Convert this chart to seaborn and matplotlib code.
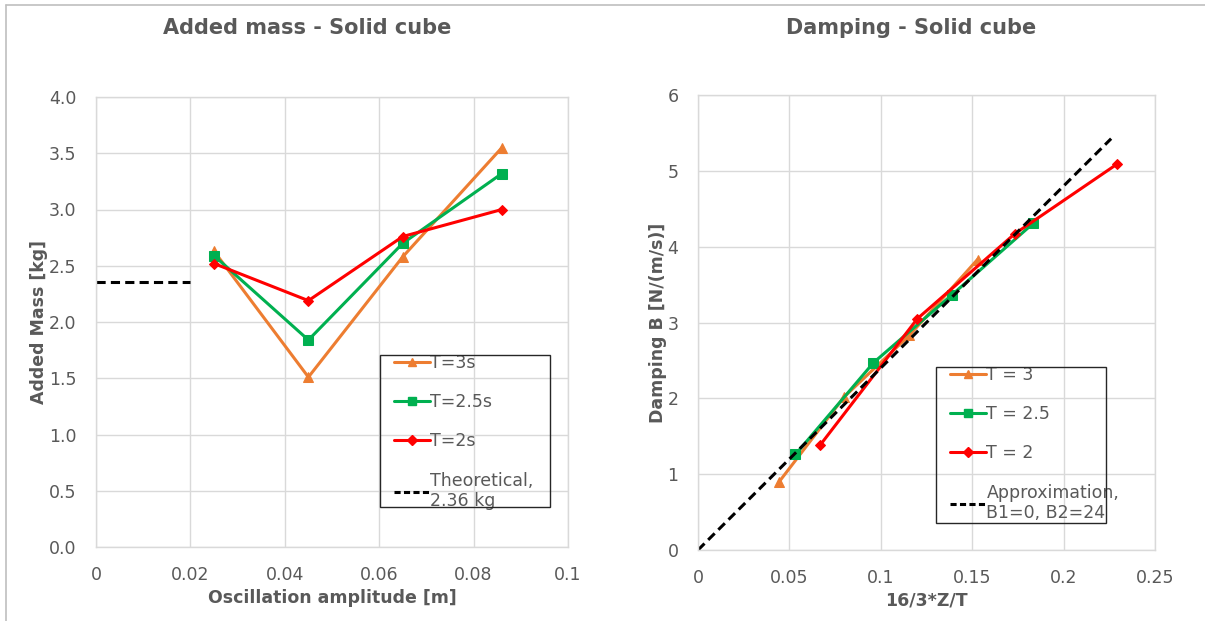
import matplotlib
matplotlib.use("Agg")
import matplotlib.pyplot as plt
from matplotlib.lines import Line2D
from matplotlib.patches import Rectangle
import seaborn as sns
import pandas as pd

# Added mass vs oscillation amplitude
amplitude = [0.025, 0.045, 0.065, 0.086]
mass_T3 = [2.63, 1.51, 2.58, 3.55]
mass_T25 = [2.59, 1.84, 2.70, 3.32]
mass_T2 = [2.52, 2.19, 2.76, 3.00]
theory_x = [0.0, 0.02]
theory_mass = [2.36, 2.36]

# Damping vs 16/3*Z/T
zt_T3 = [0.0444, 0.0800, 0.1156, 0.1529]
damp_T3 = [0.90, 2.02, 2.83, 3.83]
zt_T25 = [0.0533, 0.0960, 0.1387, 0.1835]
damp_T25 = [1.26, 2.47, 3.36, 4.31]
zt_T2 = [0.0667, 0.1200, 0.1733, 0.2293]
damp_T2 = [1.38, 3.05, 4.17, 5.09]
approx_x = [0.0, 0.226]
approx_B = [0.0, 5.424]

mass_labels = ["T=3s", "T=2.5s", "T=2s", "Theoretical,\n2.36 kg"]
damp_labels = ["T = 3", "T = 2.5", "T = 2", "Approximation,\nB1=0, B2=24"]

ORANGE = "#ED7D31"
GREEN = "#00B050"
RED = "#FF0000"
TXT = "#595959"
GRID = "#D9D9D9"

W, H = 1205, 621

sns.set_theme(style="white")
plt.rcParams["font.family"] = ["DejaVu Sans"]

fig = plt.figure(figsize=(W / 100, H / 100), dpi=100)


def fx(px):
    return px / W


def fy(py):
    return 1 - py / H


ax1 = fig.add_axes([fx(96), fy(547), 472 / W, 450 / H])
ax2 = fig.add_axes([fx(698), fy(550), 457 / W, 455 / H])

styles = [(ORANGE, "^", 7.5), (GREEN, "s", 6.5), (RED, "D", 5.5)]
DASH = (0, (3.0, 1.7))
LW = 2.2


def draw_series(ax, xs, ys, color, marker, ms):
    df = pd.DataFrame({"x": xs, "y": ys})
    sns.lineplot(data=df, x="x", y="y", ax=ax, sort=False, color=color,
                 linewidth=LW, marker=marker, markersize=ms,
                 markeredgecolor=color, markerfacecolor=color)


for xs, ys, (c, m, s) in zip([amplitude] * 3, [mass_T3, mass_T25, mass_T2], styles):
    draw_series(ax1, xs, ys, c, m, s)
sns.lineplot(x=theory_x, y=theory_mass, ax=ax1, color="black", linewidth=LW,
             linestyle=DASH)

for xs, ys, (c, m, s) in zip([zt_T3, zt_T25, zt_T2], [damp_T3, damp_T25, damp_T2], styles):
    draw_series(ax2, xs, ys, c, m, s)
sns.lineplot(x=approx_x, y=approx_B, ax=ax2, color="black", linewidth=LW,
             linestyle=DASH)


def style_axes(ax, xlim, ylim, xticks, yticks, xfmt, yfmt, xlabel, ylabel, ypad):
    ax.set_xlim(*xlim)
    ax.set_ylim(*ylim)
    ax.set_xticks(xticks)
    ax.set_yticks(yticks)
    ax.set_xticklabels([xfmt(v) for v in xticks])
    ax.set_yticklabels([yfmt(v) for v in yticks])
    ax.grid(True, color=GRID, linewidth=1.0)
    ax.set_axisbelow(True)
    for sp in ax.spines.values():
        sp.set_color(GRID)
        sp.set_linewidth(1.0)
    ax.tick_params(axis="x", colors=TXT, labelsize=12.5, length=0, pad=14)
    ax.tick_params(axis="y", colors=TXT, labelsize=12.5, length=0, pad=14)
    ax.set_xlabel(xlabel, fontsize=12.5, fontweight="bold", color=TXT, labelpad=3)
    ax.set_ylabel(ylabel, fontsize=12.5, fontweight="bold", color=TXT, labelpad=ypad)


def fmt_x(v):
    return "0" if v == 0 else f"{v:g}"


style_axes(ax1, (0, 0.1), (0, 4.0), [0, 0.02, 0.04, 0.06, 0.08, 0.1],
           [0, 0.5, 1.0, 1.5, 2.0, 2.5, 3.0, 3.5, 4.0], fmt_x, lambda v: f"{v:.1f}",
           "Oscillation amplitude [m]", "Added Mass [kg]", 1)
style_axes(ax2, (0, 0.25), (0, 6), [0, 0.05, 0.1, 0.15, 0.2, 0.25],
           [0, 1, 2, 3, 4, 5, 6], fmt_x, lambda v: f"{v:g}",
           "16/3*Z/T", "Damping B [N/(m/s)]", 0)

fig.text(fx(307), fy(28), "Added mass - Solid cube", ha="center", va="center",
         fontsize=15, fontweight="bold", color=TXT)
fig.text(fx(911), fy(28), "Damping - Solid cube", ha="center", va="center",
         fontsize=15, fontweight="bold", color=TXT)


def make_legend(ax, labels, box):
    x0, y0, x1, y1 = box
    handles = [Line2D([], [], color=c, marker=m, markersize=s * 0.85, linewidth=LW)
               for c, m, s in styles]
    handles.append(Line2D([], [], color="black", linewidth=LW, linestyle=(0, (2.0, 1.1))))
    leg = ax.legend(handles, labels, loc="upper left",
                    bbox_to_anchor=(fx(x0 + 14), fy(y0 - 1)),
                    bbox_transform=fig.transFigure, frameon=False,
                    fontsize=12.5, handlelength=2.05, handletextpad=0.05,
                    labelspacing=1.22, borderpad=0.0, borderaxespad=0,
                    labelcolor=TXT)
    fig.add_artist(Rectangle((fx(x0), fy(y1)), (x1 - x0) / W, (y1 - y0) / H,
                             transform=fig.transFigure, fill=False,
                             edgecolor="#262626", linewidth=1.0, zorder=5))
    return leg


make_legend(ax1, mass_labels, (380, 355, 550, 507))
make_legend(ax2, damp_labels, (936, 367, 1106, 523))

# panel border lines
fig.add_artist(Line2D([fx(6), 1.0], [fy(4.5), fy(4.5)],
                      transform=fig.transFigure, color="#BFBFBF", linewidth=1.2))
fig.add_artist(Line2D([fx(6), fx(6)], [0.0, fy(4.5)],
                      transform=fig.transFigure, color="#BFBFBF", linewidth=1.2))

fig.savefig("out.png", dpi=100, facecolor="white")
